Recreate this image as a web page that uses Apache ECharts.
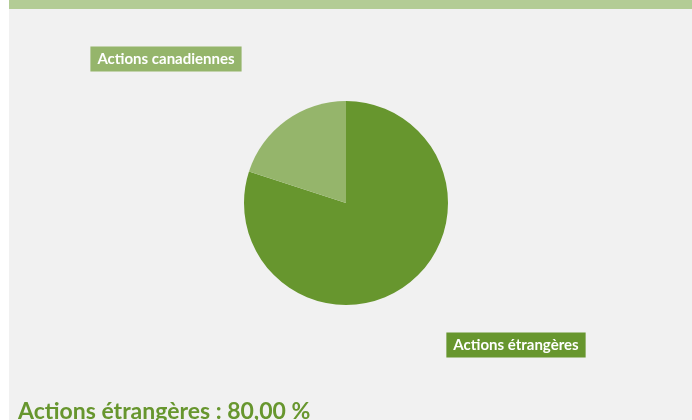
<!DOCTYPE html>
<html>
<head>
<meta charset="utf-8">
<script src="https://cdn.jsdelivr.net/npm/echarts@6/dist/echarts.min.js"></script>
<style>
  html, body { margin: 0; padding: 0; background: #ffffff; }
  #chart { position: absolute; left: 9px; top: 0; width: 683px; height: 420px; }
</style>
</head>
<body>
<div id="chart"></div>
<script>
// données
var categories = ['Actions étrangères', 'Actions canadiennes'];
var values = [80, 20];
var colors = ['#67962e', '#95b56b'];
// positions des étiquettes (centre de la boîte)
var labelPos = [[507, 345], [157, 59]];

var chart = echarts.init(document.getElementById('chart'), null, { renderer: 'canvas' });

var total = values.reduce(function (a, b) { return a + b; }, 0);
var mainPct = (values[0] / total * 100).toFixed(2).replace('.', ',');

chart.setOption({
    backgroundColor: '#f1f1f1',
    animation: false,
    graphic: [
        {
            type: 'rect',
            left: 0, top: 0,
            shape: { width: 683, height: 9 },
            style: { fill: '#b3cc95' }
        },
        {
            type: 'text',
            left: 9, top: 400,
            style: {
                text: categories[0] + ' : ' + mainPct + ' %',
                fill: '#67962e',
                font: 'bold 23px Lato'
            }
        }
    ],
    series: [{
        type: 'pie',
        center: [337, 203],
        radius: [0, 102],
        startAngle: 90,
        clockwise: true,
        silent: true,
        data: categories.map(function (c, i) {
            return {
                name: c,
                value: values[i],
                itemStyle: { color: colors[i] },
                label: { backgroundColor: colors[i] }
            };
        }),
        label: {
            show: true,
            formatter: '{b}',
            color: '#ffffff',
            fontFamily: 'Lato',
            fontWeight: 'bold',
            fontSize: 15,
            padding: [5, 7, 5, 7],
            align: 'center',
            verticalAlign: 'middle'
        },
        labelLine: { show: false },
        labelLayout: function (p) {
            var pos = labelPos[p.dataIndex];
            return { x: pos[0], y: pos[1], align: 'center', verticalAlign: 'middle' };
        }
    }]
});
</script>
</body>
</html>
